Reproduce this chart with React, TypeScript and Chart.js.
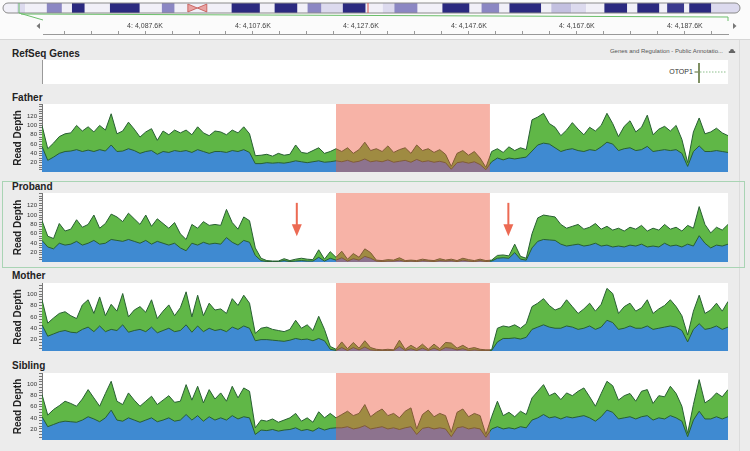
import React, { useEffect, useRef } from "react";
import { Chart, registerables } from "chart.js";
Chart.register(...registerables);

const FONT = "'Liberation Sans', Arial, Helvetica, sans-serif";

// ---------- data ----------
const binIndex: number[] = Array.from({ length: 120 }, (_, i) => i);

const fatherTotal = [
  100, 50, 62, 76, 82, 84, 100, 88, 97, 86, 100, 90, 125, 82, 88, 107, 92, 75, 86, 93,
  68, 88, 80, 90, 84, 90, 80, 97, 84, 78, 88, 86, 80, 90, 84, 97, 82, 35,
  36, 38, 34, 40, 36, 38, 58, 42, 40, 46, 52, 40, 44,
  50, 44, 52, 40, 48, 64, 46, 50, 44, 56, 42, 48, 52, 40, 58, 46, 50, 42, 48, 38, 12, 40, 46, 36, 44, 30, 10, 44,
  50, 42, 54, 46, 52, 48,
  112, 118, 126, 104, 96, 78, 90, 106, 92, 80, 96, 88, 100, 126, 104, 76, 98, 110, 86, 96,
  122, 80, 92, 98, 88, 100, 70, 20, 86, 116, 82, 86, 94, 84, 78,
];
const fatherBase = [
  55, 25, 32, 40, 44, 45, 48, 44, 47, 44, 48, 45, 58, 44, 45, 50, 46, 40, 44, 46,
  38, 44, 42, 46, 44, 46, 42, 48, 44, 40, 44, 44, 42, 46, 44, 48, 42, 18,
  18, 20, 19, 20, 19, 21, 24, 22, 20, 22, 24, 21, 22,
  24, 22, 25, 21, 23, 28, 22, 24, 22, 26, 21, 23, 25, 21, 27, 22, 24, 21, 23, 20, 6, 20, 22, 19, 22, 16, 5, 22,
  30, 26, 30, 28, 30, 32,
  45, 58, 62, 60, 52, 44, 48, 50, 46, 44, 48, 46, 54, 64, 60, 46, 50, 52, 46, 48,
  55, 44, 46, 48, 46, 48, 40, 12, 44, 56, 44, 44, 46, 44, 42,
];

const probandTotal = [
  88, 55, 50, 82, 66, 70, 90, 74, 80, 100, 72, 82, 102, 96, 86, 104, 92, 80, 100, 76,
  92, 82, 72, 84, 60, 48, 80, 72, 86, 78, 80, 78, 112, 84, 70, 96, 88, 30,
  8, 3, 2, 2, 7, 3, 6, 8, 6, 5, 26, 6, 22,
  10, 23, 6, 18, 10, 28, 20, 4, 3, 5, 4, 9, 3, 4, 3, 6, 4, 3, 7, 4, 6, 3, 8, 5, 3, 6, 3, 4,
  14, 15, 13, 38, 12, 8,
  60, 94, 100, 98, 96, 80, 72, 76, 80, 70, 74, 82, 70, 76, 68, 72, 66, 74, 70, 78,
  66, 72, 68, 80, 70, 74, 66, 78, 72, 118, 80, 62, 74, 68, 80,
];
const probandBase = [
  46, 32, 28, 40, 36, 38, 44, 36, 40, 46, 38, 40, 48, 46, 44, 48, 44, 40, 46, 38,
  44, 40, 36, 40, 30, 24, 40, 36, 42, 38, 40, 38, 52, 42, 36, 46, 42, 14,
  3, 1, 1, 1, 3, 1, 2, 3, 2, 2, 10, 2, 8,
  4, 9, 2, 7, 4, 12, 8, 2, 1, 2, 2, 4, 1, 2, 1, 3, 2, 1, 3, 2, 3, 1, 4, 2, 1, 3, 1, 2,
  8, 9, 8, 20, 6, 4,
  30, 44, 48, 47, 46, 38, 34, 36, 38, 34, 36, 40, 34, 36, 32, 34, 32, 36, 34, 38,
  32, 34, 32, 40, 34, 36, 32, 38, 34, 56, 40, 30, 36, 34, 38,
];

const motherTotal = [
  90, 49, 58, 66, 69, 62, 57, 81, 90, 66, 95, 62, 82, 70, 101, 60, 72, 78, 68, 90,
  57, 70, 81, 62, 76, 104, 60, 98, 62, 84, 72, 74, 66, 92, 80, 98, 84, 31,
  40, 42, 38, 36, 34, 38, 54, 40, 46, 36, 61, 38, 8,
  3, 16, 4, 15, 5, 18, 6, 3, 2, 3, 2, 19, 3, 10, 4, 12, 3, 12, 4, 15, 14, 5, 10, 4, 6, 3, 2, 2,
  40, 44, 42, 46, 40, 48,
  78, 84, 92, 80, 72, 76, 90, 78, 66, 74, 84, 70, 82, 110, 101, 66, 78, 84, 70, 76,
  90, 66, 74, 80, 90, 78, 62, 28, 70, 98, 66, 72, 84, 70, 87,
];
const motherBase = [
  46, 26, 30, 34, 36, 33, 32, 38, 42, 34, 44, 34, 38, 36, 46, 33, 36, 38, 34, 42,
  32, 36, 40, 34, 36, 46, 33, 44, 34, 40, 36, 38, 34, 42, 38, 44, 40, 18,
  20, 20, 19, 18, 17, 19, 22, 20, 21, 18, 22, 18, 3,
  1, 6, 1, 6, 2, 7, 2, 1, 1, 1, 1, 8, 1, 4, 1, 5, 1, 5, 1, 6, 5, 2, 4, 1, 2, 1, 1, 1,
  16, 22, 22, 23, 21, 24,
  38, 42, 46, 42, 40, 40, 44, 42, 38, 40, 44, 38, 42, 54, 50, 38, 40, 44, 40, 40,
  44, 38, 40, 42, 44, 42, 36, 16, 38, 48, 38, 40, 44, 38, 42,
];

const siblingTotal = [
  82, 45, 55, 62, 70, 66, 61, 74, 91, 76, 61, 84, 106, 70, 64, 85, 72, 61, 70, 79,
  64, 72, 80, 68, 70, 100, 72, 97, 67, 91, 74, 85, 70, 97, 76, 94, 88, 22,
  36, 34, 38, 32, 36, 40, 48, 34, 40, 32, 51, 40, 48,
  40, 46, 52, 44, 48, 64, 42, 50, 56, 44, 48, 40, 52, 58, 20, 46, 54, 42, 48, 44, 14, 50, 56, 42, 48, 44, 10, 42,
  70, 44, 50, 42, 52, 46,
  76, 88, 100, 80, 85, 73, 85, 80, 88, 94, 78, 61, 84, 106, 98, 72, 80, 84, 70, 88,
  91, 66, 80, 78, 97, 84, 61, 12, 64, 109, 67, 74, 85, 78, 91,
];
const siblingBase = [
  42, 24, 28, 32, 34, 33, 32, 36, 42, 38, 33, 40, 54, 36, 34, 40, 36, 32, 36, 40,
  33, 36, 40, 34, 36, 46, 36, 44, 34, 42, 36, 40, 36, 44, 38, 42, 40, 10,
  18, 17, 19, 16, 18, 19, 22, 17, 19, 16, 22, 18, 21,
  22, 22, 24, 20, 22, 26, 20, 22, 24, 20, 22, 19, 22, 24, 10, 21, 23, 20, 22, 20, 6, 22, 24, 20, 22, 20, 5, 20,
  24, 20, 22, 20, 24, 22,
  36, 40, 46, 40, 42, 38, 42, 40, 42, 44, 40, 34, 42, 54, 50, 38, 40, 42, 38, 42,
  44, 36, 40, 38, 44, 40, 34, 6, 36, 52, 38, 38, 42, 38, 42,
];

// highlighted deletion region (in bins) and arrow markers (in bins)
const roiStartBin = 51;
const roiEndBin = 77.7;
const probandArrowBins = [44.2, 80.9];
const arrowTopDepth = 126;
const arrowTipDepth = 55;

// ruler (kb)
const rulerOriginKb = 4067.6;
const rulerMinKb = 4068.7;
const rulerMaxKb = 4195.6;
const rulerLabels = ["4: 4,087.6K", "4: 4,107.6K", "4: 4,127.6K", "4: 4,147.6K", "4: 4,167.6K", "4: 4,187.6K"];

// gene
const geneName = "OTOP1";
const geneStartKb = 4190.2;
const annotationSource = "Genes and Regulation - Public Annotatio...";

// chromosome 4 ideogram bands: [start Mb, end Mb, stain]
const cytoBands: [number, number, string][] = [
  [0, 3.6, "gneg"], [3.6, 5.7, "gpos25"], [5.7, 11.3, "gneg"], [11.3, 15.2, "gpos50"],
  [15.2, 17.8, "gneg"], [17.8, 21.1, "gpos100"], [21.1, 27.6, "gneg"], [27.6, 35.3, "gpos100"],
  [35.3, 41, "gneg"], [41, 44.3, "gpos50"], [44.3, 47.7, "gneg"], [47.7, 52.6, "acen"],
  [52.6, 59, "gneg"], [59, 66.3, "gpos100"], [66.3, 70.1, "gneg"], [70.1, 76, "gpos100"],
  [76, 78.6, "gneg"], [78.6, 82.2, "gpos50"], [82.2, 87.7, "gpos25"], [87.7, 93.6, "gpos100"],
  [93.6, 98, "gneg"], [98, 101, "gpos25"], [101, 107, "gpos50"], [107, 113.4, "gneg"],
  [113.4, 120.4, "gpos100"], [120.4, 123.5, "gneg"], [123.5, 128.1, "gpos50"], [128.1, 130.7, "gneg"],
  [130.7, 138.9, "gpos100"], [138.9, 141.5, "gneg"], [141.5, 146.7, "gpos33"], [146.7, 150.5, "gpos25"],
  [150.5, 155.2, "gneg"], [155.2, 161.1, "gpos100"], [161.1, 163.7, "gneg"], [163.7, 169.4, "gpos100"],
  [169.4, 171.4, "gneg"], [171.4, 175.8, "gpos75"], [175.8, 177.1, "gneg"], [177.1, 182.8, "gpos100"],
  [182.8, 190.2, "gpos25"],
];
const chromLengthMb = 190.2;
const viewMb = 4.13;

// ---------- styles ----------
const GREEN = "#60b747";
const BLUE = "#3f8ad1";
const OUTLINE = "#285f33";
const ROI = "rgba(237,86,59,0.45)";
const ARROW = "#ec6a53";
const STAIN: Record<string, string> = {
  gneg: "#f1f0f8", gpos25: "#dcdaee", gpos33: "#c3c0e0", gpos50: "#8b87c3",
  gpos75: "#3b3a8e", gpos100: "#2b2a80", acen: "#e9a3a3",
};

const trackDecor = {
  id: "trackDecor",
  beforeDraw(chart: any) {
    const { ctx, chartArea: a } = chart;
    ctx.save();
    ctx.fillStyle = "#ffffff";
    ctx.fillRect(a.left, a.top, a.right - a.left, a.bottom - a.top);
    ctx.restore();
  },
  afterDatasetsDraw(chart: any, _args: any, opts: any) {
    const { ctx, chartArea: a, scales } = chart;
    const xs = scales.x, ys = scales.y;
    const x0 = xs.getPixelForValue(roiStartBin);
    const x1 = xs.getPixelForValue(roiEndBin);
    ctx.save();
    ctx.fillStyle = ROI;
    ctx.fillRect(x0, a.top, x1 - x0, a.bottom - a.top);
    if (opts && opts.arrows) {
      ctx.fillStyle = ARROW;
      for (const b of opts.arrows as number[]) {
        const px = xs.getPixelForValue(b);
        const yTop = ys.getPixelForValue(arrowTopDepth);
        const yTip = ys.getPixelForValue(arrowTipDepth);
        ctx.fillRect(px - 1, yTop, 2, yTip - yTop - 11);
        ctx.beginPath();
        ctx.moveTo(px - 5, yTip - 12);
        ctx.lineTo(px + 5, yTip - 12);
        ctx.lineTo(px, yTip);
        ctx.closePath();
        ctx.fill();
      }
    }
    ctx.restore();
  },
};

type TrackProps = {
  top: number; height: number; total: number[]; base: number[]; yMax: number; arrows?: number[];
};

function DepthTrack({ top, height, total, base, yMax, arrows }: TrackProps) {
  const ref = useRef<HTMLCanvasElement>(null);
  useEffect(() => {
    const chart = new Chart(ref.current as HTMLCanvasElement, {
      type: "line",
      data: {
        datasets: [
          {
            data: binIndex.map((b, i) => ({ x: b, y: base[i] })),
            backgroundColor: BLUE, borderColor: OUTLINE, borderWidth: 1,
            fill: "origin", pointRadius: 0, tension: 0, order: 1,
          },
          {
            data: binIndex.map((b, i) => ({ x: b, y: total[i] })),
            backgroundColor: GREEN, borderColor: OUTLINE, borderWidth: 1,
            fill: "origin", pointRadius: 0, tension: 0, order: 2,
          },
        ],
      },
      options: {
        animation: false,
        responsive: false,
        maintainAspectRatio: false,
        layout: { padding: { left: 0, right: 12, top: 0, bottom: 0 } },
        plugins: {
          legend: { display: false },
          tooltip: { enabled: false },
          trackDecor: { arrows: arrows || [] },
        } as any,
        scales: {
          x: { type: "linear", min: 0, max: binIndex.length - 1, display: false },
          y: {
            min: 0, max: yMax,
            afterFit: (s: any) => { s.width = 42; s.paddingTop = 0; s.paddingBottom = 0; },
            ticks: {
              stepSize: 5, includeBounds: false, autoSkip: false, padding: 2,
              color: "#333", font: { family: FONT, size: 6 },
              callback: (v: any) => (v % 20 === 0 && v > 0 && v < yMax - 15 ? String(v) : ""),
            },
            grid: { display: true, drawOnChartArea: false, tickLength: 3, tickColor: "#777" },
            border: { display: true, color: "#777", width: 1 },
            title: {
              display: true, text: "Read Depth", color: "#222",
              font: { family: FONT, size: 10, weight: "bold" },
              padding: { top: 12.5, bottom: 0 },
            },
          } as any,
        },
      },
      plugins: [trackDecor],
    });
    return () => chart.destroy();
  }, []);
  return (
    <canvas ref={ref} width={740} height={height}
      style={{ position: "absolute", left: 0, top, width: 740, height }} />
  );
}

function Ruler() {
  const ref = useRef<HTMLCanvasElement>(null);
  useEffect(() => {
    const chart = new Chart(ref.current as HTMLCanvasElement, {
      type: "line",
      data: { datasets: [] },
      options: {
        animation: false, responsive: false, maintainAspectRatio: false,
        layout: { padding: { left: 43, right: 22, top: 0, bottom: 0 } },
        plugins: { legend: { display: false }, tooltip: { enabled: false } },
        scales: {
          x: {
            type: "linear", position: "top",
            min: rulerMinKb - rulerOriginKb, max: rulerMaxKb - rulerOriginKb,
            afterFit: (s: any) => { s.height = 20; s.paddingLeft = 0; s.paddingRight = 0; },
            ticks: {
              stepSize: 5, includeBounds: false, autoSkip: false, maxRotation: 0, padding: 1,
              color: "#444", font: { family: FONT, size: 7 },
              callback: (v: any) => (v % 20 === 0 ? rulerLabels[v / 20 - 1] || "" : ""),
            },
            grid: { display: true, drawOnChartArea: false, tickLength: 3, tickColor: "#999" },
            border: { display: true, color: "#999", width: 1 },
          } as any,
          y: { display: false },
        },
      },
    });
    return () => chart.destroy();
  }, []);
  return (
    <canvas ref={ref} width={750} height={21}
      style={{ position: "absolute", left: 0, top: 14, width: 750, height: 21 }} />
  );
}

const mbToX = (mb: number) => 3 + (mb / chromLengthMb) * 737;
const kbToX = (kb: number) => 43 + ((kb - rulerMinKb) / (rulerMaxKb - rulerMinKb)) * 685;

function Ideogram() {
  const vx = mbToX(viewMb);
  return (
    <svg width={750} height={40} style={{ position: "absolute", left: 0, top: 0 }}>
      <defs>
        <clipPath id="chrClip">
          <rect x={3} y={3} width={737} height={10} rx={5} ry={5} />
        </clipPath>
      </defs>
      <g clipPath="url(#chrClip)">
        {cytoBands.map(([s, e, st], i) =>
          st === "acen" ? null : (
            <rect key={i} x={mbToX(s)} y={3} width={mbToX(e) - mbToX(s)} height={10} fill={STAIN[st]} />
          )
        )}
        {cytoBands.filter((b) => b[2] === "acen").map(([s, e], i) => {
          const x0 = mbToX(s), x1 = mbToX(e), xm = (x0 + x1) / 2;
          return (
            <g key={"c" + i}>
              <rect x={x0} y={3} width={x1 - x0} height={10} fill="#f1f0f8" />
              <polygon points={`${x0},4 ${xm},8 ${x0},12`} fill={STAIN.acen} stroke="#c0504d" strokeWidth={0.8} />
              <polygon points={`${x1},4 ${xm},8 ${x1},12`} fill={STAIN.acen} stroke="#c0504d" strokeWidth={0.8} />
            </g>
          );
        })}
      </g>
      <rect x={3} y={3} width={737} height={10} rx={5} ry={5} fill="none" stroke="#8a8a8a" strokeWidth={1} />
      <line x1={368} y1={3} x2={368} y2={13} stroke="#d9534f" strokeWidth={1} />
      <polyline points={`${vx},3 ${vx},13 43,20`} fill="none" stroke="#6bbf6b" strokeWidth={1} />
      <polyline points={`${vx + 2},14 728,17 728,21`} fill="none" stroke="#6bbf6b" strokeWidth={1} />
      <polygon points="40,23 40,29 36.5,26" fill="#777" />
      <polygon points="733,23 733,29 736.5,26" fill="#777" />
    </svg>
  );
}

const titleStyle = (top: number): React.CSSProperties => ({
  position: "absolute", left: 12, top, fontFamily: FONT, fontWeight: "bold",
  fontSize: 10, lineHeight: "12px", color: "#222", whiteSpace: "nowrap",
});

const tracks = [
  { name: "Father", titleTop: 92, top: 104, bottom: 172, yMax: 146, total: fatherTotal, base: fatherBase },
  { name: "Proband", titleTop: 181, top: 193, bottom: 262, yMax: 147, total: probandTotal, base: probandBase, arrows: probandArrowBins },
  { name: "Mother", titleTop: 270, top: 283, bottom: 351, yMax: 119.5, total: motherTotal, base: motherBase },
  { name: "Sibling", titleTop: 360, top: 373, bottom: 440, yMax: 121, total: siblingTotal, base: siblingBase },
];

export default function App() {
  const gx = kbToX(geneStartKb);
  return (
    <div style={{ position: "absolute", left: 0, top: 0, width: 750, height: 451, background: "#ececec", overflow: "hidden", fontFamily: FONT }}>
      <div style={{ position: "absolute", left: 0, top: 0, width: 750, height: 39, background: "#fbfbfb", borderBottom: "1px solid #d6d6d6" }} />
      <div style={{ position: "absolute", left: 739, top: 40, width: 1, height: 411, background: "#dcdcdc" }} />
      <Ruler />
      <Ideogram />

      {/* gene track */}
      <div style={titleStyle(48)}>RefSeq Genes</div>
      <div style={{ position: "absolute", right: 27, top: 48, fontSize: 6, lineHeight: "7px", color: "#555", whiteSpace: "nowrap" }}>{annotationSource}</div>
      <svg width={8} height={6} style={{ position: "absolute", left: 728, top: 48 }}>
        <path d="M1,5 Q0,3 2,3 Q2,1 4,1 Q6,1 6,3 Q8,3 7,5 Z" fill="#666" />
      </svg>
      <div style={{ position: "absolute", left: 42, top: 60, width: 686, height: 24, background: "#fff", borderLeft: "1px solid #999", boxSizing: "border-box" }} />
      <div style={{ position: "absolute", right: 750 - (gx - 6), top: 68, fontSize: 7, lineHeight: "8px", color: "#333", whiteSpace: "nowrap" }}>{geneName}</div>
      <svg width={40} height={26} style={{ position: "absolute", left: gx - 5, top: 60 }}>
        <line x1={0.5} y1={12} x2={4} y2={12} stroke="#556b2f" strokeWidth={1} />
        <line x1={5} y1={3} x2={5} y2={23} stroke="#556b2f" strokeWidth={1.5} />
        <line x1={6} y1={12} x2={33} y2={12} stroke="#8cbf8c" strokeWidth={1} strokeDasharray="1.5,1.5" />
      </svg>

      {/* proband highlight box */}
      <div style={{ position: "absolute", left: 2, top: 181, width: 743, height: 87, border: "1px solid #a9d4b4", boxSizing: "border-box" }} />

      {tracks.map((t) => (
        <React.Fragment key={t.name}>
          <div style={titleStyle(t.titleTop)}>{t.name}</div>
          <DepthTrack top={t.top} height={t.bottom - t.top} total={t.total} base={t.base} yMax={t.yMax} arrows={(t as any).arrows} />
        </React.Fragment>
      ))}
    </div>
  );
}
